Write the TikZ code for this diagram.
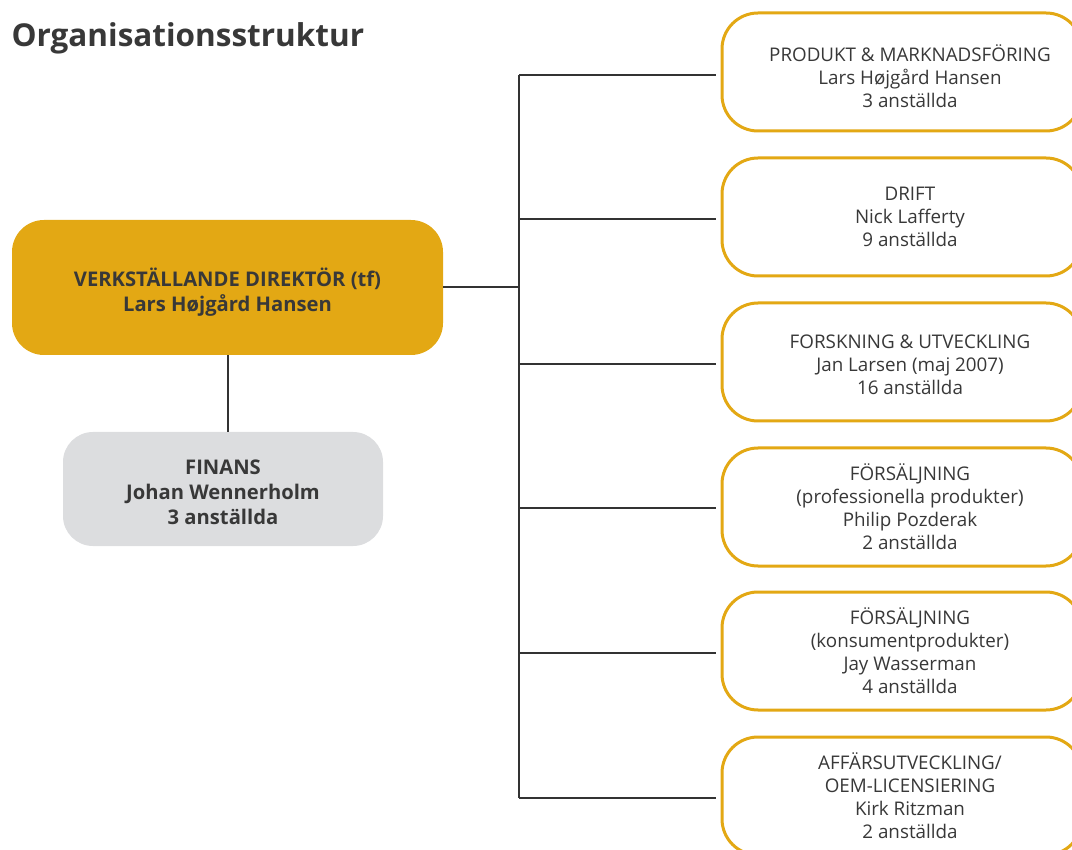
\documentclass[tikz,border=0pt]{standalone}
\usepackage{fontspec}
\setmainfont{Open Sans}
\definecolor{gold}{HTML}{E3A814}
\definecolor{greybox}{HTML}{DCDDDF}
\definecolor{ink}{HTML}{383838}
\definecolor{linec}{HTML}{333333}
\begin{document}
\begin{tikzpicture}[x=1pt,y=-1pt,
  unit/.style={draw=gold,line width=3pt,fill=white,rounded corners=36pt,
    minimum width=360pt,minimum height=118pt,inner sep=0pt},
  unittext/.style={align=center,text=ink,font=\fontsize{18.8}{23}\selectfont,inner sep=0pt},
  boss/.style={fill=gold,rounded corners=32pt,minimum width=431pt,minimum height=135pt,inner sep=0pt},
  fin/.style={fill=greybox,rounded corners=30pt,minimum width=320pt,minimum height=114pt,inner sep=0pt},
  bosstext/.style={align=center,text=ink,font=\fontsize{20.2}{25}\selectfont\bfseries,inner sep=0pt},
  conn/.style={draw=linec,line width=2pt}]
\useasboundingbox (0,0) rectangle (1072,850);
\node[anchor=base west,text=ink,font=\fontsize{31.5}{36}\selectfont\bfseries] (title) at (8,47) {Organisationsstruktur};
\node[boss] (ceo) at (227.5,287.5) {};
\node[bosstext] (ceot) at ([yshift=-5pt]ceo.center) {VERKSTÄLLANDE DIREKTÖR (tf)\\Lars Højgård Hansen};
\node[fin] (fin) at (223,489) {};
\node[bosstext] (fint) at ([yshift=-3pt]fin.center) {FINANS\\Johan Wennerholm\\3 anställda};
\node[unit] (p1) at (902,72) {};
\node[unit] (p2) at (902,217) {};
\node[unit] (p3) at (902,362) {};
\node[unit] (p4) at (902,507) {};
\node[unit] (p5) at (902,651) {};
\node[unit] (p6) at (902,796) {};
\node[unittext] (p1t) at ([xshift=8pt,yshift=-4pt]p1.center) {PRODUKT \& MARKNADSFÖRING\\Lars Højgård Hansen\\3 anställda};
\node[unittext] (p2t) at ([xshift=8pt]p2.center) {DRIFT\\Nick Lafferty\\9 anställda};
\node[unittext] (p3t) at ([xshift=8pt,yshift=-3pt]p3.center) {FORSKNING \& UTVECKLING\\Jan Larsen (maj 2007)\\16 anställda};
\node[unittext] (p4t) at ([xshift=8pt]p4.center) {FÖRSÄLJNING\\(professionella produkter)\\Philip Pozderak\\2 anställda};
\node[unittext] (p5t) at ([xshift=8pt]p5.center) {FÖRSÄLJNING\\(konsumentprodukter)\\Jay Wasserman\\4 anställda};
\node[unittext] (p6t) at ([xshift=8pt]p6.center) {AFFÄRSUTVECKLING/\\OEM-LICENSIERING\\Kirk Ritzman\\2 anställda};
\coordinate (trunk) at (519,0);
\draw[conn] (ceo.south) -- (ceo.south |- fin.north);
\draw[conn] (ceo.east) -- (trunk |- ceo.east);
\draw[conn] ([yshift=-3pt]trunk |- p1.west) -- ([yshift=-2pt]trunk |- p6.west);
\draw[conn,shorten >=5pt] ([yshift=-3pt]trunk |- p1.west) -- ([yshift=-3pt]p1.west);
\draw[conn,shorten >=5pt] ([yshift=-2pt]trunk |- p2.west) -- ([yshift=-2pt]p2.west);
\draw[conn,shorten >=5pt] ([yshift=-2pt]trunk |- p3.west) -- ([yshift=-2pt]p3.west);
\draw[conn,shorten >=5pt] ([yshift=-1pt]trunk |- p4.west) -- ([yshift=-1pt]p4.west);
\draw[conn,shorten >=5pt] ([yshift=-2pt]trunk |- p5.west) -- ([yshift=-2pt]p5.west);
\draw[conn,shorten >=5pt] ([yshift=-2pt]trunk |- p6.west) -- ([yshift=-2pt]p6.west);
\end{tikzpicture}
\end{document}
